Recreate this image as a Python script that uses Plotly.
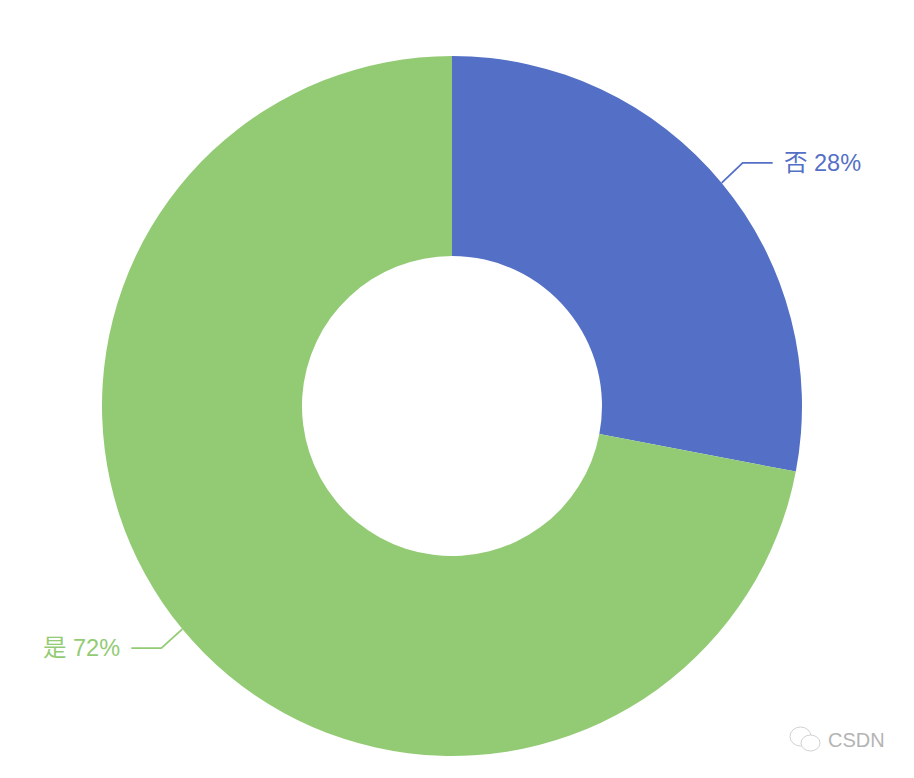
import math
import plotly.graph_objects as go

# Reference chart: share of answers, two slices
labels = ['否', '是']
values = [28, 72]
colors = ['#5470c6', '#93cb74']

W, H = 914, 778
CX, CY = 452, 406
R_OUT, R_IN = 350, 150


def px_x(x):
    return x / W


def px_y(y):
    return 1 - y / H


fig = go.Figure(go.Pie(
    labels=labels,
    values=values,
    hole=R_IN / R_OUT,
    sort=False,
    direction='clockwise',
    rotation=0,
    marker=dict(colors=colors, line=dict(width=0)),
    textinfo='none',
    showlegend=False,
    domain=dict(
        x=[px_x(CX - R_OUT), px_x(CX + R_OUT)],
        y=[px_y(CY + R_OUT), px_y(CY - R_OUT)],
    ),
    hovertemplate='%{label} %{percent:.0%}<extra></extra>',
))

# Leader lines and labels, placed from each slice's mid angle
shapes = []
annotations = []
total = sum(values)
start = 0
for label, value, color in zip(labels, values, colors):
    mid = (start + value / 2) / total * 2 * math.pi
    start += value
    x0 = CX + R_OUT * math.sin(mid)
    y0 = CY - R_OUT * math.cos(mid)
    side = 1 if math.sin(mid) > 0 else -1
    elbow = (x0 + side * 21, y0 + (-20 if y0 < CY else 19))
    end_x = elbow[0] + side * 30
    path = f'M {px_x(x0)} {px_y(y0)} L {px_x(elbow[0])} {px_y(elbow[1])} L {px_x(end_x)} {px_y(elbow[1])}'
    shapes.append(dict(type='path', path=path, xref='paper', yref='paper',
                       line=dict(color=color, width=1.8)))
    annotations.append(dict(
        text=f'{label} {value}%',
        x=px_x(end_x + side * 9), y=px_y(elbow[1]),
        xref='paper', yref='paper',
        xanchor='left' if side > 0 else 'right', yanchor='middle',
        showarrow=False,
        font=dict(family='Liberation Sans, Noto Sans CJK SC, sans-serif', size=23.5, color=color),
    ))

# Watermark in the bottom-right corner
annotations.append(dict(
    text='CSDN', x=px_x(826), y=px_y(740), xref='paper', yref='paper',
    xanchor='left', yanchor='middle', showarrow=False,
    font=dict(family='Liberation Sans, sans-serif', size=20, color='#b4b4b4'),
))
for x0, y0, x1, y1 in [(790, 727, 811, 746), (801, 735, 820, 751)]:
    shapes.append(dict(type='circle', xref='paper', yref='paper',
                       x0=px_x(x0), x1=px_x(x1), y0=px_y(y0), y1=px_y(y1),
                       fillcolor='white', line=dict(color='#d2d2d2', width=1)))

fig.update_layout(
    width=W,
    height=H,
    margin=dict(l=0, r=0, t=0, b=0),
    paper_bgcolor='white',
    shapes=shapes,
    annotations=annotations,
)

fig.write_html('out.html', config=dict(displayModeBar=False),
               post_script="document.body.style.margin='0';document.body.style.overflow='hidden';")
